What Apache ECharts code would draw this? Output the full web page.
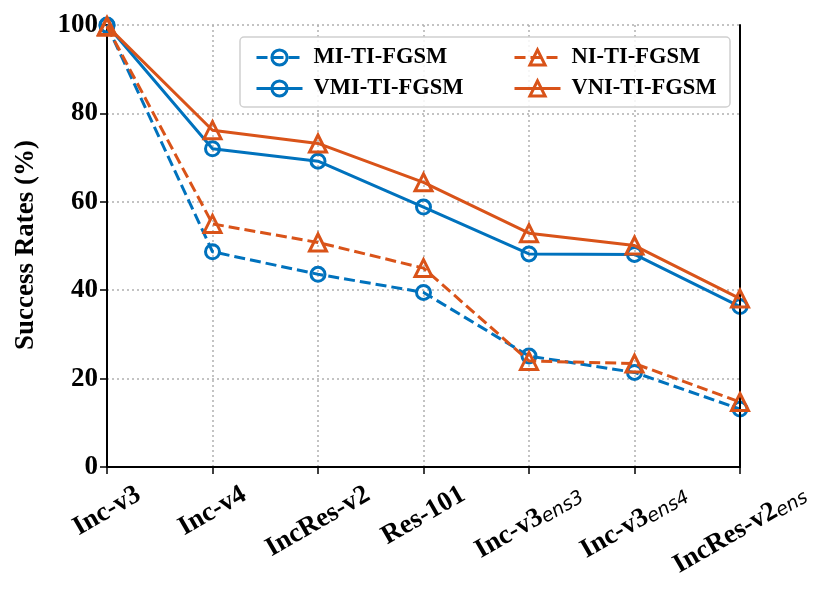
<!DOCTYPE html>
<html>
<head>
<meta charset="utf-8">
<script src="https://cdn.jsdelivr.net/npm/echarts@6/dist/echarts.min.js"></script>
<style>
  html, body { margin: 0; padding: 0; background: #fff; }
  #chart { width: 830px; height: 599px; }
</style>
</head>
<body>
<div id="chart"></div>
<script>
// model names: main part + subscript part
var models = ['Inc-v3', 'Inc-v4', 'IncRes-v2', 'Res-101', 'Inc-v3', 'Inc-v3', 'IncRes-v2'];
var modelSubs = ['', '', '', '', 'ens3', 'ens4', 'ens'];
var miTi  = [99.9, 48.7, 43.6, 39.5, 25.1, 21.4, 13.1];
var vmiTi = [100, 72.0, 69.2, 58.8, 48.2, 48.1, 36.3];
var niTi  = [99.6, 55.0, 50.8, 45.0, 24.0, 23.4, 14.7];
var vniTi = [99.8, 76.2, 73.2, 64.4, 52.9, 50.1, 38.1];
var yTicks = [0, 20, 40, 60, 80, 100];

var blue = '#0072BD';
var orange = '#D95319';
var serif = '"Liberation Serif", "Times New Roman", serif';
var labelSize = 27;
var subSize = 19;

var chart = echarts.init(document.getElementById('chart'));

function makeSeries(name, data, color, symbol, dashed, z) {
    return {
        name: name,
        type: 'line',
        data: data,
        z: z,
        symbol: symbol,
        symbolSize: symbol == 'circle' ? 14 : 17,
        showAllSymbol: true,
        color: color,
        lineStyle: { color: color, width: 3, type: dashed ? [11, 5] : 'solid' },
        itemStyle: { color: 'rgba(255,255,255,0)', borderColor: color, borderWidth: 3 },
        emphasis: { disabled: true },
        animation: false
    };
}

var legendText = { fontFamily: serif, fontWeight: 'bold', fontSize: 22.5, color: '#000', padding: [0, 0, 0, 6] };
var gridLine = { show: true, lineStyle: { color: '#b0b0b0', width: 1.5, type: [2, 3] } };
var frameLine = { show: true, lineStyle: { color: '#000', width: 2 } };

function makeLegend(names, left) {
    return {
        data: names,
        orient: 'vertical',
        left: left, top: 41,
        itemWidth: 46, itemHeight: 19, itemGap: 8,
        lineStyle: { width: 3 },
        itemStyle: { borderWidth: 3 },
        textStyle: legendText
    };
}

var option = {
    backgroundColor: '#fff',
    animation: false,
    grid: { left: 107, right: 90, top: 25, bottom: 132 },
    legend: [
        makeLegend(['MI-TI-FGSM', 'VMI-TI-FGSM'], 250),
        makeLegend(['NI-TI-FGSM', 'VNI-TI-FGSM'], 508)
    ],
    xAxis: [{
        type: 'category',
        data: models.map(function (m, i) { return m + modelSubs[i]; }),
        boundaryGap: false,
        axisLine: frameLine,
        axisTick: { show: true, length: 7, lineStyle: { color: '#000', width: 1.5 } },
        splitLine: gridLine,
        axisLabel: { show: false }
    }, {
        type: 'category',
        position: 'top',
        z: 5,
        data: models.map(function (m, i) { return m + modelSubs[i]; }),
        boundaryGap: false,
        axisLine: frameLine,
        axisTick: { show: false },
        axisLabel: { show: false },
        splitLine: { show: false }
    }],
    yAxis: [{
        type: 'value',
        min: 0, max: 100, interval: 20,
        axisLine: frameLine,
        axisTick: { show: true, length: 7, lineStyle: { color: '#000', width: 1.5 } },
        splitLine: gridLine,
        axisLabel: {
            margin: 9,
            fontFamily: serif, fontWeight: 'bold', fontSize: labelSize, color: '#000',
            formatter: function (v) { return yTicks.indexOf(v) >= 0 ? String(v) : ''; }
        }
    }, {
        type: 'value',
        position: 'right',
        z: 5,
        min: 0, max: 100, interval: 20,
        axisLine: frameLine,
        axisTick: { show: false },
        axisLabel: { show: false },
        splitLine: { show: false }
    }],
    series: [
        makeSeries('MI-TI-FGSM', miTi, blue, 'circle', true, 3),
        makeSeries('VMI-TI-FGSM', vmiTi, blue, 'circle', false, 4),
        makeSeries('NI-TI-FGSM', niTi, orange, 'triangle', true, 5),
        makeSeries('VNI-TI-FGSM', vniTi, orange, 'triangle', false, 6)
    ]
};
chart.setOption(option);

// x tick labels: rotated 30 deg, centred under the tick like matplotlib does
var ctx = document.createElement('canvas').getContext('2d');
function textWidth(str, font) {
    ctx.font = font;
    return ctx.measureText(str).width;
}
var axisY = chart.convertToPixel({ yAxisIndex: 0 }, 0);
var ang = Math.PI / 6;
var graphics = [{
    type: 'rect',
    shape: { x: 240, y: 37, width: 490, height: 70, r: 4 },
    style: { fill: 'rgba(255,255,255,0.85)', stroke: '#d0d0d0', lineWidth: 1.5 },
    z: 1
}, {
    type: 'text',
    x: 26, y: 245,
    rotation: Math.PI / 2,
    style: { text: 'Success Rates (%)', fontFamily: serif, fontWeight: 'bold', fontSize: labelSize, fill: '#000', align: 'center', verticalAlign: 'middle' }
}];
models.forEach(function (m, i) {
    var px = chart.convertToPixel({ xAxisIndex: 0 }, i);
    var w = textWidth(m, 'bold ' + labelSize + 'px ' + serif);
    if (modelSubs[i]) {
        w += textWidth(modelSubs[i], 'italic ' + subSize + 'px "DejaVu Sans"');
    }
    var h = labelSize;
    var bboxH = w * Math.sin(ang) + h * Math.cos(ang);
    graphics.push({
        type: 'text',
        x: px,
        y: axisY + 14 + bboxH / 2,
        rotation: ang,
        style: {
            text: modelSubs[i] ? '{a|' + m + '}{b|' + modelSubs[i] + '}' : '{a|' + m + '}',
            align: 'center',
            verticalAlign: 'middle',
            rich: {
                a: { fontFamily: serif, fontWeight: 'bold', fontSize: labelSize, lineHeight: labelSize, fill: '#000' },
                b: { fontFamily: '"DejaVu Sans", sans-serif', fontStyle: 'italic', fontSize: subSize, lineHeight: 13, verticalAlign: 'bottom', fill: '#000' }
            }
        }
    });
});
chart.setOption({ graphic: graphics });
</script>
</body>
</html>
